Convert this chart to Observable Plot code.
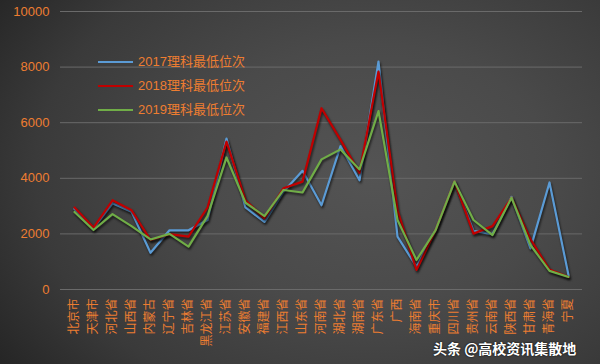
<!DOCTYPE html>
<html><head><meta charset="utf-8">
<script src="https://cdn.jsdelivr.net/npm/d3@7"></script>
<script src="https://cdn.jsdelivr.net/npm/@observablehq/plot@0.6"></script>
<style>
html,body{margin:0;padding:0;}
#wrap{position:relative;width:600px;height:364px;overflow:hidden;
 background:radial-gradient(ellipse 75% 90% at 62% 48%, #545454 0%, #4a4a4a 40%, #3a3a3a 75%, #262626 100%);
 font-family:"Liberation Sans","Noto Sans CJK SC",sans-serif;}
#wrap svg g[aria-label="line"] path{filter:drop-shadow(1px 2px 1.2px rgba(0,0,0,0.65));}
.leg{position:absolute;left:98px;font-size:13px;color:#ED7D31;font-family:"Liberation Sans","Noto Sans CJK SC",sans-serif;white-space:nowrap;}
.leg span{display:inline-block;width:35px;height:2px;vertical-align:middle;margin-right:5px;position:relative;top:-1px;}
#wm{position:absolute;left:433px;top:338px;font-size:14px;font-weight:bold;color:#fff;font-family:"Noto Sans CJK SC",sans-serif;text-shadow:0 0 2px #000;white-space:nowrap;}
</style></head>
<body><div id="wrap"></div>
<script>
const provinces = ["北京市","天津市","河北省","山西省","内蒙古","辽宁省","吉林省","黑龙江省","江苏省","安徽省","福建省","江西省","山东省","河南省","湖北省","湖南省","广东省","广西","海南省","重庆市","四川省","贵州省","云南省","陕西省","甘肃省","青海省","宁夏"];
const y2017 = [2900,2200,3100,2800,1320,2130,2130,2500,5430,2950,2430,3520,4270,3030,5160,3930,8200,1900,820,2130,3880,2110,1990,3330,1480,3850,510];
const y2018 = [2950,2230,3210,2850,1780,1990,1900,2950,5320,3210,2560,3640,3880,6520,5380,4200,7840,2850,700,2130,3880,2010,2280,3300,1800,720,450];
const y2019 = [2790,2140,2710,2280,1800,2000,1540,2640,4750,3120,2640,3580,3490,4680,5040,4320,6420,2500,1060,2130,3880,2500,1960,3300,1600,670,450];
const seriesNames = ["2017理科最低位次","2018理科最低位次","2019理科最低位次"];
const seriesColors = ["#5B9BD5","#C00000","#70AD47"];
const yTicks = [0,2000,4000,6000,8000,10000];

const rows = [];
[y2017,y2018,y2019].forEach((arr,si)=>arr.forEach((v,i)=>rows.push({p:provinces[i],v,s:seriesNames[si]})));

const plot = Plot.plot({
  width:600, height:364,
  marginLeft:60, marginRight:18, marginTop:11, marginBottom:75,
  style:{background:"transparent",color:"#ED7D31",fontSize:"13px",fontFamily:"Liberation Sans, sans-serif"},
  x:{type:"point",domain:provinces,padding:0.5,label:null},
  y:{domain:[0,10000],label:null},
  color:{domain:seriesNames,range:seriesColors},
  marks:[
    Plot.ruleY(yTicks,{stroke:"#6a6a6a",strokeWidth:1}),
    Plot.axisY({ticks:yTicks,tickFormat:d=>String(d),tickSize:0,tickPadding:11,fill:"#ED7D31",fontSize:13,label:null}),
    Plot.axisX({tickSize:0,tickRotate:-90,tickPadding:9,fill:"#ED7D31",fontSize:12,fontFamily:"Noto Sans CJK SC, sans-serif",label:null}),
    Plot.line(rows,{x:"p",y:"v",z:"s",stroke:"s",strokeWidth:2.2})
  ]
});
const wrap = document.getElementById("wrap");
wrap.appendChild(plot);
seriesNames.forEach((n,i)=>{
  const d=document.createElement("div");d.className="leg";d.style.top=(51+i*24)+"px";
  d.innerHTML=`<span style="background:${seriesColors[i]}"></span>${n}`;wrap.appendChild(d);
});
const wm=document.createElement("div");wm.id="wm";wm.textContent="头条 @高校资讯集散地";wrap.appendChild(wm);
</script></body></html>
